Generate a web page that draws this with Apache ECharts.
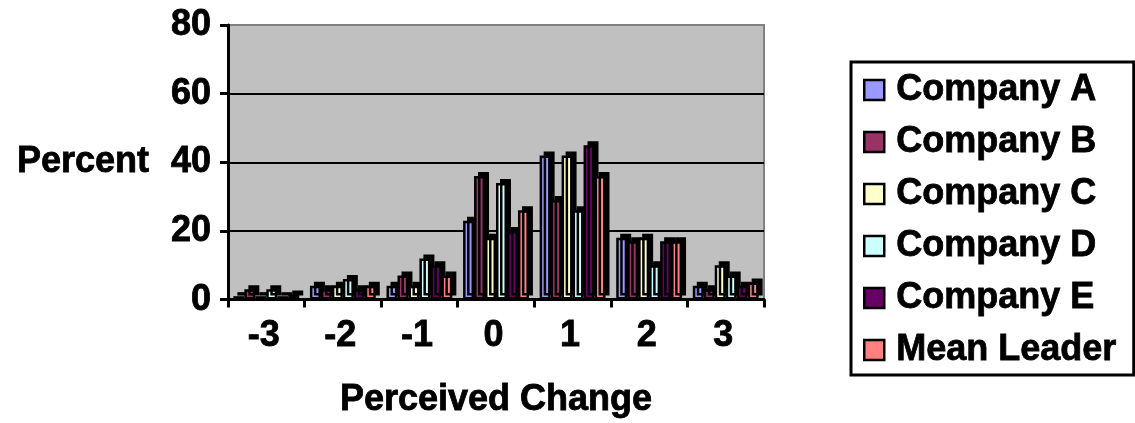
<!DOCTYPE html>
<html>
<head>
<meta charset="utf-8">
<script src="https://cdn.jsdelivr.net/npm/echarts@6/dist/echarts.min.js"></script>
<style>
html,body{margin:0;padding:0;background:#fff;}
#chart{width:1135px;height:423px;}
</style>
</head>
<body>
<div id="chart"></div>
<script>
const categories = ['-3', '-2', '-1', '0', '1', '2', '3'];
const seriesNames = ['Company A', 'Company B', 'Company C', 'Company D', 'Company E', 'Mean Leader'];
const companyA = [1, 4, 4, 23, 42, 18, 4];
const companyB = [3, 3, 7, 36, 29, 17, 3];
const companyC = [1, 4, 4, 18, 42, 18, 10];
const companyD = [3, 6, 12, 34, 26, 10, 7];
const companyE = [1, 3, 10, 20, 45, 17, 4];
const meanLeader = [1.5, 4, 7, 26, 36, 17, 5];
const colors = ['#9999FF', '#993366', '#FFFFCC', '#CCFFFF', '#660066', '#FF8080'];
const yTicks = [0, 20, 40, 60, 80];

const allData = [companyA, companyB, companyC, companyD, companyE, meanLeader];
const font = 'Liberation Sans, Arial, sans-serif';
const heavy = { textBorderColor: '#000', textBorderWidth: 0.8 };

const chart = echarts.init(document.getElementById('chart'));
chart.setOption({
  animation: false,
  backgroundColor: '#fff',
  grid: {
    left: 228, right: 371, top: 25, bottom: 120,
    show: true, backgroundColor: '#c0c0c0', borderColor: '#808080', borderWidth: 2
  },
  legend: {
    orient: 'vertical',
    left: 851, top: 62,
    padding: [8, 17, 5, 12],
    itemWidth: 20, itemHeight: 20, itemGap: 12,
    icon: 'rect',
    backgroundColor: '#fff',
    borderColor: '#000', borderWidth: 3,
    itemStyle: { borderColor: '#000', borderWidth: 2.5 },
    textStyle: Object.assign({ fontFamily: font, fontWeight: 'bold', fontSize: 36, color: '#000', lineHeight: 40, padding: [0, 0, 0, 7] }, heavy),
    data: seriesNames
  },
  xAxis: {
    type: 'category',
    data: categories,
    name: 'Perceived Change',
    nameLocation: 'middle',
    nameGap: 82,
    nameTextStyle: Object.assign({ fontFamily: font, fontWeight: 'bold', fontSize: 36, color: '#000' }, heavy),
    axisLine: { lineStyle: { color: '#000', width: 3 } },
    axisTick: { show: true, length: 8, lineStyle: { color: '#000', width: 3 } },
    axisLabel: Object.assign({ fontFamily: font, fontWeight: 'bold', fontSize: 36, color: '#000', margin: 18, padding: [0, 5, 0, 0] }, heavy)
  },
  yAxis: {
    type: 'value',
    min: yTicks[0], max: yTicks[yTicks.length - 1], interval: 20,
    name: 'Percent',
    nameLocation: 'middle',
    nameRotate: 0,
    nameGap: 79,
    nameTextStyle: Object.assign({ fontFamily: font, fontWeight: 'bold', fontSize: 36, color: '#000', align: 'right', padding: [0, 0, 6, 0] }, heavy),
    axisLine: { show: true, lineStyle: { color: '#000', width: 3 } },
    axisTick: { show: true, length: 8, lineStyle: { color: '#000', width: 3 } },
    axisLabel: Object.assign({ fontFamily: font, fontWeight: 'bold', fontSize: 36, color: '#000', margin: 17 }, heavy),
    splitLine: { show: true, showMaxLine: false, lineStyle: { color: '#000', width: 2 } }
  },
  series: seriesNames.map((n, i) => ({
    name: n,
    type: 'bar',
    data: allData[i],
    barGap: '0%',
    barCategoryGap: '14%',
    itemStyle: {
      color: colors[i],
      borderColor: '#000',
      borderWidth: 2.5,
      shadowColor: '#000',
      shadowBlur: 0,
      shadowOffsetX: 4,
      shadowOffsetY: -4
    }
  }))
});
</script>
</body>
</html>
